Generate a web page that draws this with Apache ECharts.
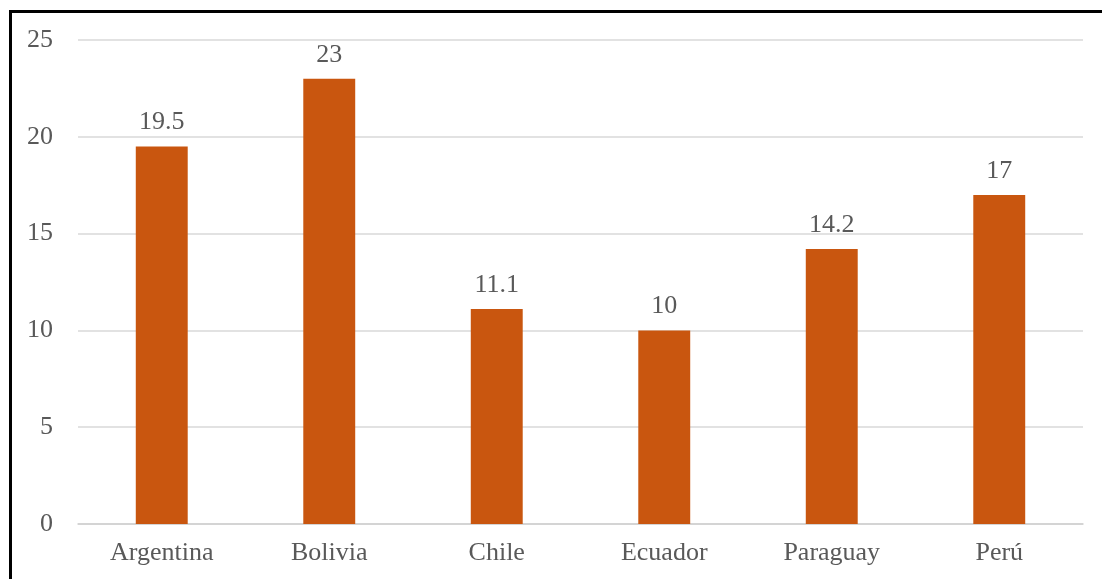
<!DOCTYPE html>
<html>
<head>
<meta charset="utf-8">
<script src="https://cdn.jsdelivr.net/npm/echarts@6/dist/echarts.min.js"></script>
<style>
  html, body { margin: 0; padding: 0; background: #ffffff; }
  #frame { position: absolute; left: 9px; top: 10px; width: 1200px; height: 700px;
           border-left: 3px solid #000; border-top: 3px solid #000; box-sizing: border-box; }
  #chart { position: absolute; left: 0; top: 0; width: 1102px; height: 579px; }
</style>
</head>
<body>
<div id="chart"></div>
<div id="frame"></div>
<script>
const categories = ['Argentina', 'Bolivia', 'Chile', 'Ecuador', 'Paraguay', 'Perú'];
const values = [19.5, 23, 11.1, 10, 14.2, 17];
const yTicks = { min: 0, max: 25, interval: 5 };

const textColor = '#595959';
const fontFamily = '"Liberation Serif", "DejaVu Serif", serif';

const chart = echarts.init(document.getElementById('chart'), null, { renderer: 'canvas' });
chart.setOption({
  animation: false,
  backgroundColor: '#ffffff',
  grid: { left: 78, right: 19, top: 40, bottom: 55, containLabel: false },
  xAxis: {
    type: 'category',
    data: categories,
    axisLine: { show: true, lineStyle: { color: '#d0d0d0', width: 1.5 } },
    axisTick: { show: false },
    axisLabel: { color: textColor, fontFamily: fontFamily, fontSize: 26, margin: 16 }
  },
  yAxis: {
    type: 'value',
    min: yTicks.min, max: yTicks.max, interval: yTicks.interval,
    axisLine: { show: false },
    axisTick: { show: false },
    splitLine: { lineStyle: { color: '#d9d9d9', width: 1.5 } },
    axisLabel: { color: textColor, fontFamily: fontFamily, fontSize: 26, margin: 25 }
  },
  series: [{
    type: 'bar',
    data: values,
    barWidth: '31%',
    itemStyle: { color: '#c9560f' },
    label: {
      show: true, position: 'top', distance: 11,
      color: textColor, fontFamily: fontFamily, fontSize: 26
    }
  }]
});
</script>
</body>
</html>
